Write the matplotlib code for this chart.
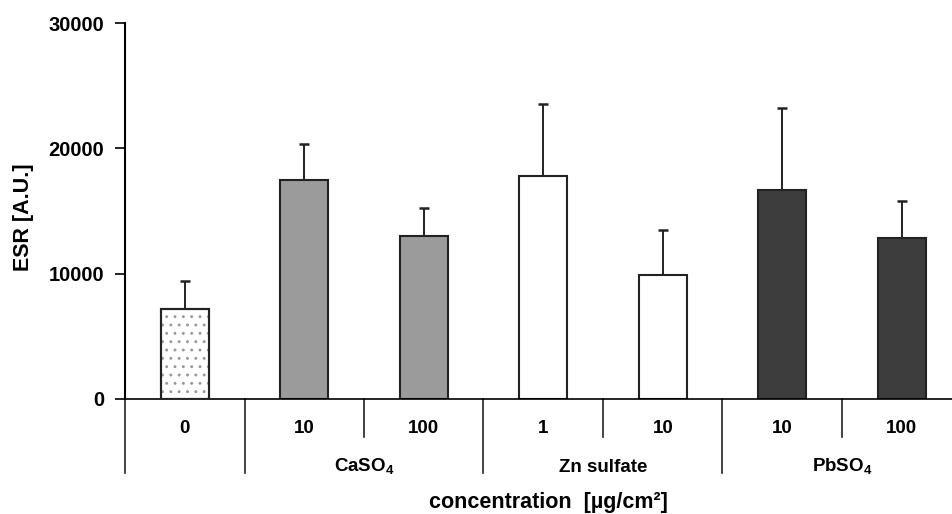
import matplotlib
matplotlib.use('Agg')
from matplotlib import pyplot as plt
import matplotlib.transforms as mtransforms

plt.rcParams['font.family'] = ['Liberation Sans', 'DejaVu Sans']
plt.rcParams['font.weight'] = 'bold'
plt.rcParams['mathtext.fontset'] = 'custom'
plt.rcParams['mathtext.rm'] = 'Liberation Sans:bold'
plt.rcParams['mathtext.bf'] = 'Liberation Sans:bold'
plt.rcParams['hatch.color'] = '#999999'
plt.rcParams['hatch.linewidth'] = 0.9

conc_labels = ['0', '10', '100', '1', '10', '10', '100']
groups = ['CaSO$_4$', 'Zn sulfate', 'PbSO$_4$']
group_centers = [1.5, 3.5, 5.5]
values = [7180, 17480, 13030, 17820, 9920, 16680, 12850]
errors = [2240, 2880, 2240, 5720, 3590, 6540, 2980]
colours = ['white', '#9b9b9b', '#9b9b9b', 'white', 'white', '#3d3d3d', '#3d3d3d']

fig = plt.figure(figsize=(9.53, 5.14), dpi=100)
ax = fig.add_axes([125 / 953, 1 - 399 / 514, 828 / 953, 376 / 514])

x = list(range(len(values)))
ax.bar(x, values, width=0.4, color=colours, edgecolor='#222222', linewidth=1.5, zorder=2)
# dotted control bar
ax.bar(x[0], values[0], width=0.4, color='none', hatch='..', edgecolor='#999999', linewidth=0, zorder=3)
ax.bar(x[0], values[0], width=0.4, color='none', edgecolor='#222222', linewidth=1.5, zorder=4)
ax.errorbar(x, values, yerr=[[0] * len(errors), errors], fmt='none', ecolor='#222222',
            elinewidth=1.4, capsize=3.5, capthick=1.8, zorder=1)

ax.set_xlim(-0.5, -0.5 + 828 / 119.5)
ax.set_ylim(0, 30000)
ax.set_yticks([0, 10000, 20000, 30000])
ax.tick_params(axis='y', direction='out', length=7, width=1.2, labelsize=14.5, pad=8)
ax.set_xticks([])
for s in ['top', 'right']:
    ax.spines[s].set_visible(False)
ax.spines['left'].set_linewidth(1.5)
ax.spines['bottom'].set_linewidth(1.2)
ax.set_ylabel('ESR [A.U.]', fontsize=15.5, fontweight='bold')
ax.yaxis.set_label_coords(-(125 - 34) / 828, 0.484)

# category table under the axis
trans = mtransforms.blended_transform_factory(ax.transData, ax.transAxes)
for xs in [-0.5, 0.5, 2.5, 4.5]:
    ax.plot([xs, xs], [0, -0.197], transform=trans, color='#222222', lw=1.2, clip_on=False)
for xs in [1.5, 3.5, 5.5]:
    ax.plot([xs, xs], [0, -0.1], transform=trans, color='#222222', lw=1.2, clip_on=False)
for xi, lab in zip(x, conc_labels):
    ax.text(xi, -0.0904, lab, transform=trans, ha='center', va='baseline', fontsize=13.5, fontweight='bold')
for gc, g in zip(group_centers, groups):
    ax.text(gc, -0.194, g, transform=trans, ha='center', va='baseline', fontsize=13.5, fontweight='bold')

fig.text(548 / 953, 1 - 508 / 514, 'concentration  [µg/cm²]', ha='center', va='baseline',
         fontsize=15.5, fontweight='bold')

fig.savefig('out.png', dpi=100)
